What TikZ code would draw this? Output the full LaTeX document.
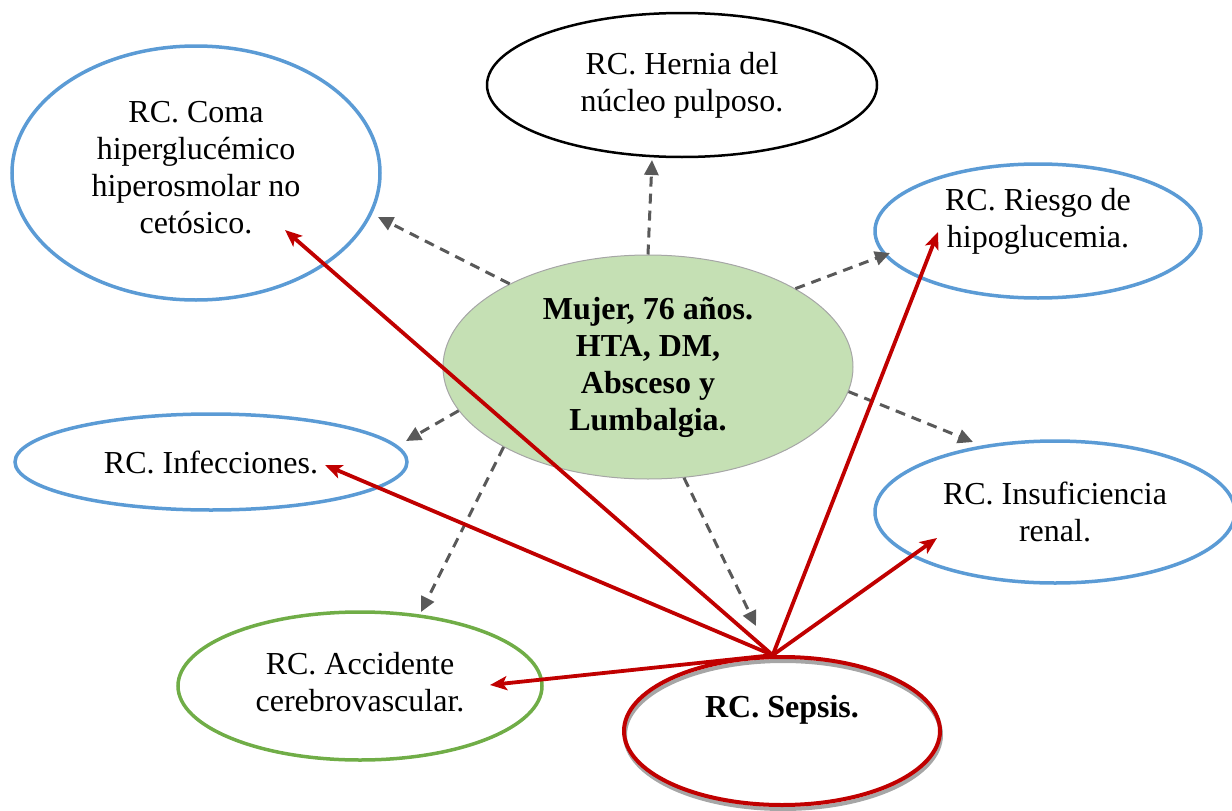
\documentclass[tikz,border=0pt]{standalone}
\usepackage{fontspec}
\setmainfont{Liberation Serif}
\usetikzlibrary{shapes.geometric,arrows.meta,shadows}

\definecolor{rcblue}{HTML}{5B9BD5}
\definecolor{rcgreen}{HTML}{70AD47}
\definecolor{rcred}{HTML}{C00000}
\definecolor{rcgray}{HTML}{595959}
\definecolor{mintfill}{HTML}{C5E0B4}
\definecolor{rimgray}{HTML}{A6A6A6}

\tikzset{
  rc/.style={ellipse, draw, inner sep=0pt, align=center, font=\fontsize{32}{37}\selectfont},
  rctext/.style={align=center, font=\fontsize{32}{37}\selectfont},
  riskline/.style={rcgray, line width=3pt, dash pattern=on 10pt off 7pt, -{Triangle[length=15pt,width=14pt]}},
  sepsisline/.style={rcred, line width=3.8pt, -{Stealth[length=17pt,width=14pt,inset=4pt]}},
}

\begin{document}
\begin{tikzpicture}[x=1pt, y=-1pt]
    \useasboundingbox (0,0) rectangle (1232,811);

    % Patient in the middle
    \node[rc, fill=mintfill, draw=rimgray, line width=1pt, font=\fontsize{32}{37}\selectfont\bfseries,
          minimum width=410, minimum height=224] (mid) at (648,367) {Mujer, 76 años.\\HTA, DM,\\Absceso y\\Lumbalgia.};

    % Risk nodes round it
    \node[rc, draw=rcblue, line width=3.5pt, minimum width=368, minimum height=254,
          label={[rctext, yshift=5pt]center:RC. Coma\\hiperglucémico\\hiperosmolar no\\cetósico.}] (coma) at (196,173) {};
    \node[rc, draw=black, line width=2.5pt, minimum width=390, minimum height=144] (hernia) at (682,85)
          {RC. Hernia del\\núcleo pulposo.};
    \node[rc, draw=rcblue, line width=3.5pt, minimum width=326, minimum height=134,
          label={[rctext, yshift=10pt]center:RC. Riesgo de\\hipoglucemia.}] (riesgo) at (1038,231) {};
    \node[rc, draw=rcblue, line width=3.5pt, minimum width=392, minimum height=96] (infec) at (211,462)
          {RC. Infecciones.};
    \node[rc, draw=rcblue, line width=3.5pt, minimum width=360, minimum height=142] (renal) at (1055,512)
          {RC. Insuficiencia\\renal.};
    \node[rc, draw=rcgreen, line width=3.5pt, minimum width=364, minimum height=148,
          label={[rctext, yshift=4pt]center:RC. Accidente\\cerebrovascular.}] (acv) at (360,686) {};
    \node[rc, draw=rcred, line width=4pt, minimum width=316, minimum height=148,
          drop shadow={shadow xshift=1pt, shadow yshift=-4pt, fill=none, draw=rimgray, line width=4pt, opacity=1},
          label={[rctext, font=\fontsize{32}{37}\selectfont\bfseries, yshift=21pt]center:RC. Sepsis.}] (sepsis) at (782,731) {};

    % Free ends of the dashed arrows
    \coordinate (tComa) at (378,217);
    \coordinate (tHernia) at (652,160);
    \coordinate (tRiesgo) at (890,253);
    \coordinate (tInfec) at (406,441);
    \coordinate (tRenal) at (973,442);
    \coordinate (tAcv) at (421,612);
    \coordinate (tSepsis) at (756,626);

    \draw[riskline] (mid.149) -- (tComa);
    \draw[riskline] (mid.90) -- (tHernia);
    \draw[riskline] (mid.28) -- (tRiesgo);
    \draw[riskline] (mid.193) -- (tInfec);
    \draw[riskline] (mid.353) -- (tRenal);
    \draw[riskline] (mid.209) -- (tAcv);
    \draw[riskline] (mid.288) -- (tSepsis);

    % Free ends of the sepsis arrows
    \coordinate (rComa) at (285,230);
    \coordinate (rInfec) at (325,465);
    \coordinate (rAcv) at (490,685);
    \coordinate (rRiesgo) at (938,232);
    \coordinate (rRenal) at (937,538);

    \draw[sepsisline] (sepsis.97) -- (rComa);
    \draw[sepsisline] (sepsis.97) -- (rInfec);
    \draw[sepsisline] (sepsis.97) -- (rAcv);
    \draw[sepsisline] (sepsis.97) -- (rRiesgo);
    \draw[sepsisline] (sepsis.97) -- (rRenal);
\end{tikzpicture}
\end{document}
